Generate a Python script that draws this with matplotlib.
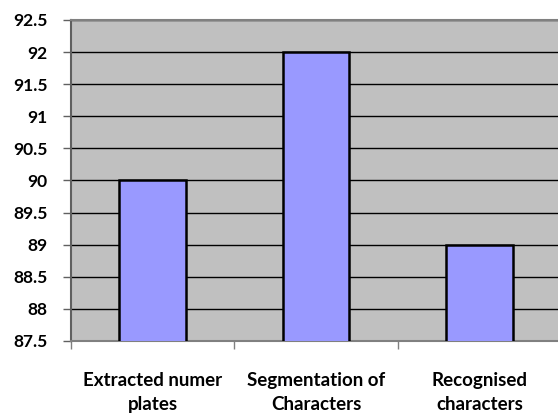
import matplotlib
matplotlib.use("Agg")
import matplotlib.pyplot as plt

categories = ["Extracted numer\nplates", "Segmentation of\nCharacters", "Recognised\ncharacters"]
values = [90, 92, 89]
yticks = [87.5, 88, 88.5, 89, 89.5, 90, 90.5, 91, 91.5, 92, 92.5]
ytick_labels = ["87.5", "88", "88.5", "89", "89.5", "90", "90.5", "91", "91.5", "92", "92.5"]

plt.rcParams['font.family'] = ['Lato', 'DejaVu Sans']
fig = plt.figure(figsize=(5.58, 4.15), dpi=100)
W, H = 558, 415
left, right, top, bottom = 71, 561, 20, 341
ax = fig.add_axes([left / W, 1 - bottom / H, (right - left) / W, (bottom - top) / H])
ax.set_facecolor("#c0c0c0")
x = list(range(len(categories)))
ax.bar(x, values, width=0.41, bottom=0, color="#9999ff", edgecolor="black", linewidth=1.8, zorder=3)
ax.set_xlim(-0.5, 2.5)
ax.set_ylim(87.5, 92.5)
ax.set_yticks(yticks)
ax.set_yticklabels(ytick_labels, fontsize=12.5, fontweight="bold")
ax.yaxis.grid(True, color="black", linewidth=1.0, zorder=1)
ax.set_axisbelow(True)
ax.set_xticks([-0.5, 0.5, 1.5, 2.5])
ax.set_xticklabels([])
ax.set_xticks(x, minor=True)
ax.set_xticklabels(categories, minor=True, fontsize=13.5, fontweight="bold", linespacing=1.5)
ax.tick_params(axis="x", which="minor", length=0, pad=22)
ax.tick_params(axis="x", which="major", length=6, color="#808080", width=1)
ax.tick_params(axis="y", length=6, color="#606060", width=1, pad=11)
for s in ["right"]:
    ax.spines[s].set_visible(False)
ax.spines["top"].set_color("#808080")
ax.spines["top"].set_linewidth(1.5)
ax.spines["left"].set_color("#606060")
ax.spines["left"].set_linewidth(1.5)
ax.spines["bottom"].set_color("#808080")
ax.spines["bottom"].set_linewidth(1.5)
fig.savefig("out.png", dpi=100)
